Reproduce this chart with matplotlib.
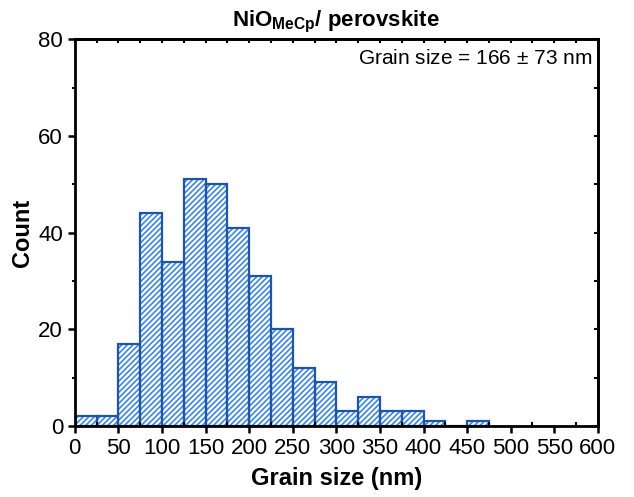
import matplotlib.pyplot as plt
import numpy as np
from matplotlib.ticker import MultipleLocator, NullFormatter

plt.rcParams['font.family'] = ['Liberation Sans', 'DejaVu Sans']
plt.rcParams['mathtext.fontset'] = 'custom'
plt.rcParams['mathtext.bf'] = 'Liberation Sans:bold'
plt.rcParams['mathtext.rm'] = 'Liberation Sans'
plt.rcParams['hatch.linewidth'] = 1.2

# grain size histogram, 25 nm bins
bin_left = np.arange(0, 475, 25)
counts = [2, 2, 17, 44, 34, 51, 50, 41, 31, 20, 12, 9, 3, 6, 3, 3, 1, 0, 1]
bin_width = 25

fig, ax = plt.subplots(figsize=(6.34, 4.97), dpi=100)
fig.subplots_adjust(left=0.118, right=0.943, top=0.921, bottom=0.143)

# hatch fill in lighter blue, outline in darker blue
ax.bar(bin_left, counts, width=bin_width, align='edge', color='white',
       edgecolor='#3d86e0', linewidth=0, hatch='//////')
ax.bar(bin_left, counts, width=bin_width, align='edge', fill=False,
       edgecolor='#1f55a8', linewidth=1.6)

ax.set_xlim(0, 600)
ax.set_ylim(0, 80)
ax.xaxis.set_major_locator(MultipleLocator(50))
ax.xaxis.set_minor_locator(MultipleLocator(25))
ax.yaxis.set_major_locator(MultipleLocator(20))
ax.yaxis.set_minor_locator(MultipleLocator(10))
ax.tick_params(which='major', direction='out', length=5, width=1.8,
               labelsize=16)
ax.tick_params(axis='x', which='minor', direction='in', length=3, width=1.5)
ax.tick_params(axis='y', which='minor', direction='out', length=2, width=1.5)
for side in ax.spines.values():
    side.set_linewidth(2)

# top and right: short inward ticks only
top = ax.secondary_xaxis('top')
top.xaxis.set_major_locator(MultipleLocator(25))
top.xaxis.set_major_formatter(NullFormatter())
top.tick_params(direction='in', length=3, width=1.5)
right = ax.secondary_yaxis('right')
right.yaxis.set_major_locator(MultipleLocator(10))
right.yaxis.set_major_formatter(NullFormatter())
right.tick_params(direction='in', length=3, width=1.5)
for sec in (top, right):
    for side in sec.spines.values():
        side.set_linewidth(2)

ax.set_xlabel('Grain size (nm)', fontsize=17, fontweight='bold', labelpad=6)
ax.set_ylabel('Count', fontsize=17, fontweight='bold', labelpad=3)
ax.set_title(r'NiO$_{\mathbf{MeCp}}$/ perovskite', fontsize=16,
             fontweight='bold', pad=9)
ax.text(0.99, 0.975, 'Grain size = 166 $\\pm$ 73 nm', transform=ax.transAxes,
        ha='right', va='top', fontsize=15)

fig.savefig('out.png', dpi=100)
